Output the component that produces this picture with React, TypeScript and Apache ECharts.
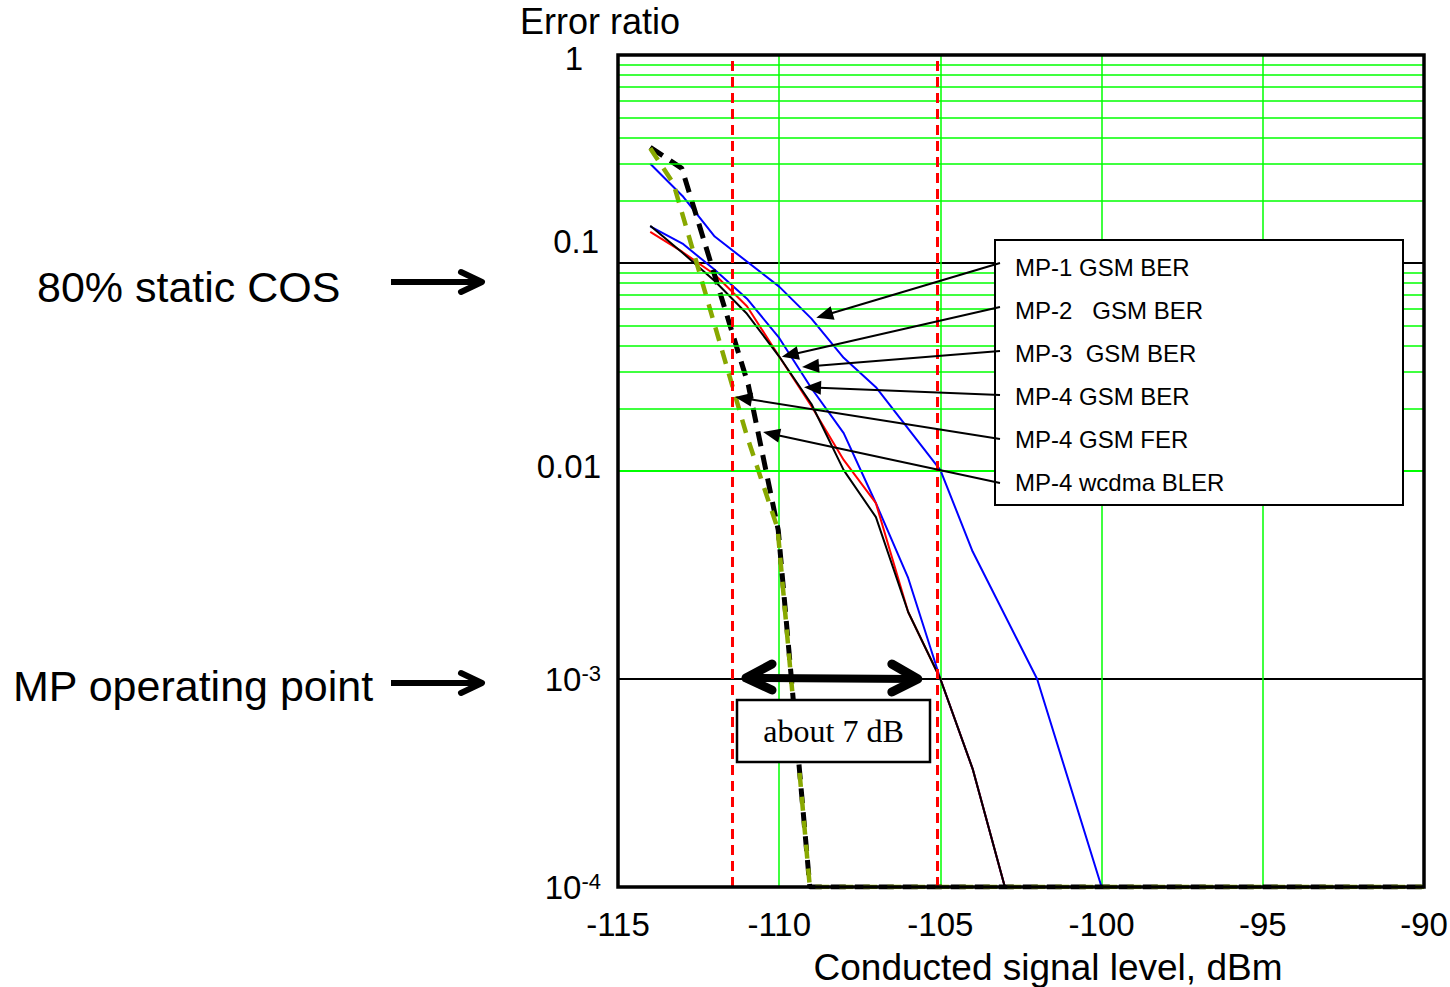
import React, { useEffect, useRef } from 'react';
import * as echarts from 'echarts';

type P = [number, number];

const xMin = -115;
const xMax = -90;
const xStep = 5;
const yMin = 1e-4;
const yMax = 1;
const minorMultipliers = [2, 3, 4, 5, 6, 7, 8, 9];
const redMarkers = [-111.45, -105.1];

const mp1GsmBer: P[] = [[-114, 0.30], [-113, 0.21], [-112, 0.134], [-110, 0.077], [-109, 0.054], [-108, 0.035], [-107, 0.0253], [-105, 0.0101], [-104, 0.0041], [-102, 0.001], [-100, 0.0001]];
const mp2GsmBer: P[] = [[-114, 0.141], [-113, 0.113], [-112, 0.088], [-111, 0.062], [-110, 0.0355], [-109, 0.0205], [-108, 0.0113], [-107, 0.0070], [-106, 0.0021], [-105, 0.001], [-104, 0.00037], [-103, 0.0001]];
const mp3GsmBer: P[] = [[-114, 0.150], [-113, 0.124], [-112, 0.0927], [-111, 0.0674], [-110, 0.0436], [-109, 0.025], [-108, 0.0152], [-107, 0.0070], [-106, 0.00306], [-105, 0.001], [-104, 0.00037], [-103, 0.0001]];
const mp4GsmBer: P[] = [[-114, 0.151], [-113, 0.112], [-112, 0.082], [-111, 0.057], [-110, 0.0355], [-109, 0.021], [-108, 0.0101], [-107, 0.0060], [-106, 0.0021], [-105, 0.001], [-104, 0.00037], [-103, 0.0001]];
const mp4GsmFer: P[] = [[-114, 0.356], [-113.28, 0.241], [-112.56, 0.1], [-111, 0.0147], [-110.05, 0.0053], [-109.05, 0.0001], [-90, 0.0001]];
const mp4WcdmaBler: P[] = [[-114, 0.36], [-113.02, 0.285], [-110.96, 0.026], [-110.03, 0.0052], [-109.05, 0.0001], [-90, 0.0001]];

const legendLabels = ['MP-1 GSM BER', 'MP-2   GSM BER', 'MP-3  GSM BER', 'MP-4 GSM BER', 'MP-4 GSM FER', 'MP-4 wcdma BLER'];
const leaderTips: P[] = [[-108.85, 0.0545], [-109.92, 0.0354], [-109.29, 0.0316], [-109.23, 0.0253], [-111.37, 0.0227], [-110.5, 0.0154]];
const gapArrowX: [number, number] = [-111.03, -105.7];
const gapArrowY = 0.001;
const gapLabel = 'about 7 dB';
const sideNotes = ['80% static COS', 'MP operating point'];
const xAxisTitle = 'Conducted signal level, dBm';
const yAxisTitle = 'Error ratio';

const SANS = "'Liberation Sans', Arial, Helvetica, sans-serif";
const SERIF = "'Liberation Serif', 'Times New Roman', serif";
const GRID_GREEN = '#00ff00';

export default function App() {
  const ref = useRef<HTMLDivElement>(null);

  useEffect(() => {
    document.body.style.margin = '0';
    const chart = echarts.init(ref.current!, null, { renderer: 'svg' });

    const minorValues: number[] = [];
    for (let e = -4; e < 0; e++) {
      for (const m of minorMultipliers) minorValues.push(m * Math.pow(10, e));
    }

    const lineSeries = (name: string, data: P[], color: string, width: number, type: any = 'solid') => ({
      name,
      type: 'line',
      data,
      showSymbol: false,
      symbol: 'none',
      silent: true,
      lineStyle: { color, width, type },
      z: 3,
    });

    const option: any = {
      animation: false,
      backgroundColor: '#fff',
      grid: {
        left: 618,
        right: 26,
        top: 55,
        bottom: 100,
        show: true,
        containLabel: false,
        outerBoundsMode: 'none',
        borderColor: '#000',
        borderWidth: 3.5,
        backgroundColor: 'transparent',
        z: 10,
      },
      xAxis: {
        type: 'value',
        min: xMin,
        max: xMax,
        interval: xStep,
        name: xAxisTitle,
        nameLocation: 'middle',
        nameGap: 62,
        nameTextStyle: { fontSize: 37, fontFamily: SANS, color: '#000', padding: [0, 0, 0, 54] },
        axisLine: { show: false },
        axisTick: { show: false },
        axisLabel: { fontSize: 33, fontFamily: SANS, color: '#000', margin: 21 },
        splitLine: { show: true, lineStyle: { color: GRID_GREEN, width: 1.5 } },
      },
      yAxis: {
        type: 'log',
        logBase: 10,
        min: yMin,
        max: yMax,
        splitNumber: 4,
        name: yAxisTitle,
        nameLocation: 'end',
        nameGap: 16,
        nameTextStyle: { fontSize: 36, fontFamily: SANS, color: '#000', padding: [0, 36, 0, 0] },
        axisLine: { show: false },
        axisTick: { show: false },
        axisLabel: {
          margin: 17,
          color: '#000',
          fontFamily: SANS,
          fontSize: 33,
          formatter: (v: number) => {
            const e = Math.round(Math.log10(v));
            if (e === 0) return '{one|1}';
            if (e === -1) return '{up|0.1}';
            if (e === -2) return '{up2|0.01}';
            return `{b|10}{sup|${e}}`;
          },
          rich: {
            one: { fontSize: 33, fontFamily: SANS, color: '#000', padding: [6, 18, 0, 0] },
            up: { fontSize: 33, fontFamily: SANS, color: '#000', padding: [0, 2, 44, 0] },
            up2: { fontSize: 33, fontFamily: SANS, color: '#000', padding: [0, 0, 10, 0] },
            b: { fontSize: 33, fontFamily: SANS, color: '#000' },
            sup: { fontSize: 22, fontFamily: SANS, color: '#000', verticalAlign: 'top' },
          },
        },
        splitLine: { show: true, lineStyle: { color: '#000', width: 2 } },
      },
      series: [
        {
          name: 'grid',
          type: 'line',
          data: [[xMin, yMax]],
          symbol: 'none',
          silent: true,
          lineStyle: { opacity: 0 },
          z: 1,
          markLine: {
            silent: true,
            symbol: ['none', 'none'],
            label: { show: false },
            animation: false,
            lineStyle: { color: GRID_GREEN, width: 1.5, type: 'solid', opacity: 1 },
            emphasis: { disabled: true },
            data: [
              ...minorValues.map((v) => ({ yAxis: v })),
              ...redMarkers.map((x) => ({ xAxis: x, lineStyle: { color: '#ff0000', width: 3, type: [10, 6] } })),
            ],
          },
        },
        lineSeries('MP-1 GSM BER', mp1GsmBer, '#0000ff', 2),
        lineSeries('MP-3 GSM BER', mp3GsmBer, '#0000ff', 2),
        lineSeries('MP-2 GSM BER', mp2GsmBer, '#ff0000', 2),
        lineSeries('MP-4 GSM BER', mp4GsmBer, '#000000', 2),
        lineSeries('MP-4 wcdma BLER', mp4WcdmaBler, '#000000', 5, [15, 9]),
        lineSeries('MP-4 GSM FER', mp4GsmFer, '#88a800', 4.5, [14, 10]),
      ],
    };

    chart.setOption(option);

    const px = (p: P) => chart.convertToPixel({ gridIndex: 0 }, p) as number[];
    const g: any[] = [];
    const txt = (text: string, x: number, y: number, size: number, family = SANS, align = 'left') => ({
      type: 'text',
      x,
      y,
      z: 100,
      silent: true,
      style: {
        text,
        fill: '#000',
        fontSize: size,
        fontFamily: family,
        align,
        verticalAlign: 'middle',
        textAlign: align,
        textVerticalAlign: 'middle',
      },
    });

    // side notes with arrows
    const noteY = [287, 686];
    const noteX = [37, 13];
    const arrowY = [282, 683];
    sideNotes.forEach((s, i) => {
      g.push(txt(s, noteX[i], noteY[i], 43));
      const ay = arrowY[i];
      g.push({ type: 'line', z: 100, silent: true, shape: { x1: 391, y1: ay, x2: 479, y2: ay }, style: { stroke: '#000', lineWidth: 6 } });
      g.push({
        type: 'polyline', z: 100, silent: true,
        shape: { points: [[461, ay - 10], [482, ay], [461, ay + 10]] },
        style: { stroke: '#000', lineWidth: 6, lineCap: 'round', lineJoin: 'round', fill: 'none' },
      });
    });

    // legend box
    const bx = 995, by = 240, bw = 408, bh = 265;
    g.push({ type: 'rect', z: 100, silent: true, shape: { x: bx, y: by, width: bw, height: bh }, style: { fill: '#fff', stroke: '#000', lineWidth: 2 } });
    legendLabels.forEach((s, i) => {
      g.push(txt(s, 1015, 267 + 43 * i, 24));
      const sx = 1000, sy = 263 + 44 * i;
      const t = px(leaderTips[i]);
      const dx = t[0] - sx, dy = t[1] - sy;
      const len = Math.hypot(dx, dy);
      const ux = dx / len, uy = dy / len;
      const nx = -uy, ny = ux;
      const al = 17, hw = 7;
      const bxp = t[0] - ux * al, byp = t[1] - uy * al;
      g.push({ type: 'line', z: 101, silent: true, shape: { x1: sx, y1: sy, x2: bxp + ux * 2, y2: byp + uy * 2 }, style: { stroke: '#000', lineWidth: 2 } });
      g.push({
        type: 'polygon', z: 101, silent: true,
        shape: { points: [[t[0], t[1]], [bxp + nx * hw, byp + ny * hw], [bxp - nx * hw, byp - ny * hw]] },
        style: { fill: '#000', stroke: 'none' },
      });
    });

    // gap arrow
    const L = px([gapArrowX[0], gapArrowY]);
    const R = px([gapArrowX[1], gapArrowY]);
    g.push({ type: 'line', z: 100, silent: true, shape: { x1: L[0] + 2, y1: L[1] - 1, x2: R[0] - 2, y2: R[1] }, style: { stroke: '#000', lineWidth: 8 } });
    g.push({
      type: 'polyline', z: 100, silent: true,
      shape: { points: [[L[0] + 26, L[1] - 15], [L[0], L[1] - 1], [L[0] + 26, L[1] + 11]] },
      style: { stroke: '#000', lineWidth: 9, lineCap: 'round', lineJoin: 'round', fill: 'none' },
    });
    g.push({
      type: 'polyline', z: 100, silent: true,
      shape: { points: [[R[0] - 26, R[1] - 15], [R[0], R[1]], [R[0] - 26, R[1] + 13]] },
      style: { stroke: '#000', lineWidth: 9, lineCap: 'round', lineJoin: 'round', fill: 'none' },
    });
    const cx = 833.5;
    const boxTop = L[1] + 21;
    g.push({ type: 'rect', z: 100, silent: true, shape: { x: cx - 96.5, y: boxTop, width: 193, height: 62 }, style: { fill: '#fff', stroke: '#000', lineWidth: 2.5 } });
    g.push(txt(gapLabel, cx, boxTop + 31, 32, SERIF, 'center'));

    chart.setOption({ graphic: { elements: g } });

    return () => chart.dispose();
  }, []);

  return <div ref={ref} style={{ width: 1450, height: 987 }} />;
}
